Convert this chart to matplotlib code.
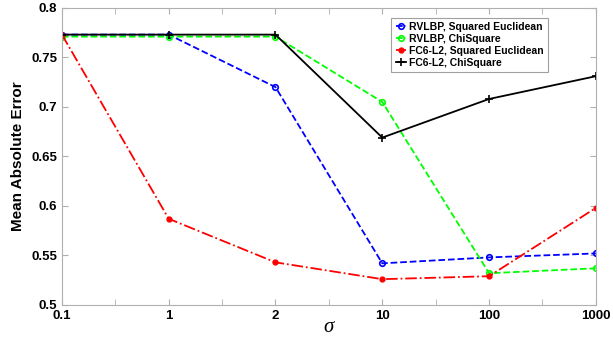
import numpy as np
import matplotlib.pyplot as plt

sigma_labels = ['0.1', '1', '2', '10', '100', '1000']
rvlbp_sq = [0.773, 0.773, 0.720, 0.542, 0.548, 0.552]
rvlbp_chi = [0.771, 0.771, 0.771, 0.705, 0.532, 0.537]
fc6_sq = [0.773, 0.587, 0.543, 0.526, 0.529, 0.598]
fc6_chi = [0.773, 0.773, 0.773, 0.669, 0.708, 0.731]

plt.rcParams['font.family'] = ['Liberation Sans', 'DejaVu Sans']
plt.rcParams['font.weight'] = 'bold'

fig = plt.figure(figsize=(6.13, 3.43), dpi=100)
ax = fig.add_axes([0.101, 0.111, 0.871, 0.866])
x = np.arange(len(sigma_labels))

ax.plot(x, rvlbp_sq, '--', color='blue', marker='o', mfc='none', ms=4, lw=1.3,
        mew=1.2, label='RVLBP, Squared Euclidean')
ax.plot(x, rvlbp_chi, '--', color='#00ff00', marker='o', mfc='none', ms=4, lw=1.3,
        mew=1.2, label='RVLBP, ChiSquare')
ax.plot(x, fc6_sq, '-.', color='red', marker='o', ms=3.5, lw=1.3,
        label='FC6-L2, Squared Euclidean')
ax.plot(x, fc6_chi, '-', color='black', marker='+', ms=6, lw=1.3, mew=1.2,
        label='FC6-L2, ChiSquare')

ax.set_xlim(0, 5)
ax.set_ylim(0.5, 0.8)
ax.set_xticks(x)
ax.set_xticklabels(sigma_labels)
ax.set_xticks(np.arange(0.5, 5, 1), minor=True)
ax.set_yticks(np.arange(0.5, 0.801, 0.05))
ax.set_yticklabels(['0.5', '0.55', '0.6', '0.65', '0.7', '0.75', '0.8'])
ax.tick_params(which='both', direction='in', top=True, right=True, color='#b0b0b0',
               labelsize=9.5, length=4)
for s in ax.spines.values():
    s.set_color('#b0b0b0')

ax.set_ylabel('Mean Absolute Error', fontsize=11, fontweight='bold')
ax.set_xlabel('σ', fontsize=15, family='Liberation Serif', style='italic',
              fontweight='normal', labelpad=-3)

leg = ax.legend(loc='upper right', bbox_to_anchor=(0.92, 0.985), fontsize=7.5,
                frameon=True, fancybox=False, edgecolor='#888888',
                handlelength=1.0, handletextpad=0.3, borderpad=0.4,
                labelspacing=0.2)
leg.get_frame().set_linewidth(0.8)

fig.savefig('out.png', dpi=100)
